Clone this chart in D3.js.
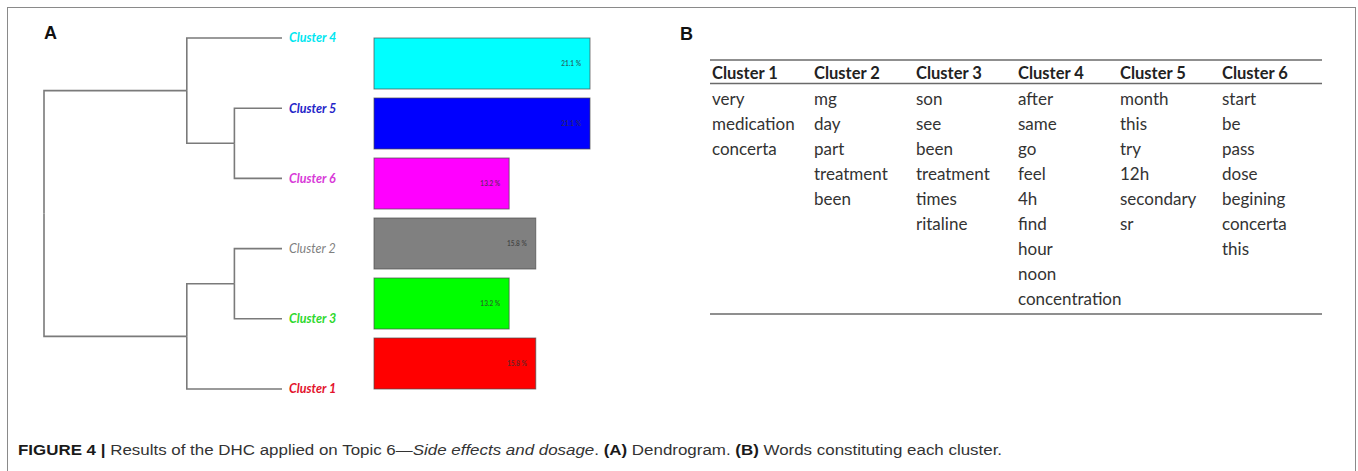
<!DOCTYPE html>
<html>
<head>
<meta charset="utf-8">
<script src="https://cdn.jsdelivr.net/npm/d3@7"></script>
<style>
  body { margin: 0; background: #fff; }
  svg { display: block; }
</style>
</head>
<body>
<svg id="fig" width="1358" height="471"></svg>
<script>

// leaves from top to bottom, as in the dendrogram
var leafOrder = ['Cluster 4', 'Cluster 5', 'Cluster 6', 'Cluster 2', 'Cluster 3', 'Cluster 1'];
var leafColors = ['#00e6f0', '#2424c8', '#d83ad8', '#7f7f7f', '#2ed82e', '#e3122c'];
var leafBold = [true, true, true, false, true, true];

// share of documents per cluster (%), same order
var clusterShare = [21.1, 21.1, 13.2, 15.8, 13.2, 15.8];
var barColors = ['#00ffff', '#0000ff', '#ff00ff', '#808080', '#00ff00', '#ff0000'];

// merge heights of the tree (0 = leaf, 1 = root)
var tree = {height: 1, children: [
    {height: 0.4, children: [
        {name: 'Cluster 4', height: 0},
        {height: 0.2, children: [{name: 'Cluster 5', height: 0}, {name: 'Cluster 6', height: 0}]}
    ]},
    {height: 0.4, children: [
        {height: 0.2, children: [{name: 'Cluster 2', height: 0}, {name: 'Cluster 3', height: 0}]},
        {name: 'Cluster 1', height: 0}
    ]}
]};

// table B
var tableHeaders = ['Cluster 1', 'Cluster 2', 'Cluster 3', 'Cluster 4', 'Cluster 5', 'Cluster 6'];
var words1 = ['very', 'medication', 'concerta'];
var words2 = ['mg', 'day', 'part', 'treatment', 'been'];
var words3 = ['son', 'see', 'been', 'treatment', 'times', 'ritaline'];
var words4 = ['after', 'same', 'go', 'feel', '4h', 'find', 'hour', 'noon', 'concentration'];
var words5 = ['month', 'this', 'try', '12h', 'secondary', 'sr'];
var words6 = ['start', 'be', 'pass', 'dose', 'begining', 'concerta', 'this'];
var tableWords = [words1, words2, words3, words4, words5, words6];

var svg = d3.select('#fig');
var bodyFont = 'Lato, "Open Sans", sans-serif';

// outer frame
svg.append('rect')
    .attr('x', 7.5).attr('y', 7.5)
    .attr('width', 1348).attr('height', 480)
    .attr('fill', 'none')
    .attr('stroke', '#8a8a8a')
    .attr('stroke-width', 1);

// panel letters
svg.append('text').text('A')
    .attr('x', 44).attr('y', 39)
    .style('font-family', '"Liberation Sans", Arial, sans-serif')
    .style('font-weight', 'bold').style('font-size', '18px')
    .attr('fill', '#111');

svg.append('text').text('B')
    .attr('x', 680).attr('y', 40)
    .style('font-family', '"Liberation Sans", Arial, sans-serif')
    .style('font-weight', 'bold').style('font-size', '18px')
    .attr('fill', '#111');

// ---------------- dendrogram ----------------
var root = d3.hierarchy(tree);

var hx = d3.scaleLinear().domain([0, 1]).range([282, 44]);
var ly = d3.scalePoint().domain(leafOrder).range([38, 389]);

// y of each node = mid of its children
root.eachAfter(function(d){
    if (!d.children) {
        d.py = ly(d.data.name);
    } else {
        d.py = d3.mean([d.children[0].py, d.children[d.children.length - 1].py]);
    }
    d.px = hx(d.data.height);
});

var gDen = svg.append('g').attr('class', 'dendrogram');

gDen.selectAll('path.link')
    .data(root.links()).enter()
    .append('path')
    .attr('class', 'link')
    .attr('d', function(l){
        return 'M' + l.source.px + ',' + l.source.py +
               'V' + l.target.py + 'H' + l.target.px;
    })
    .attr('fill', 'none')
    .attr('stroke', '#7a7a7a')
    .attr('stroke-width', 1.6);

gDen.selectAll('text.leaf')
    .data(root.leaves()).enter()
    .append('text')
    .attr('class', 'leaf')
    .text(function(d){ return d.data.name; })
    .attr('x', function(d){ return d.px + 7; })
    .attr('y', function(d){ return d.py; })
    .attr('dy', '0.35em')
    .style('font-family', bodyFont)
    .style('font-style', 'italic')
    .style('font-size', '12.5px')
    .style('font-weight', function(d){ return leafBold[leafOrder.indexOf(d.data.name)] ? 'bold' : 'normal'; })
    .attr('fill', function(d){ return leafColors[leafOrder.indexOf(d.data.name)]; });

// ---------------- bars ----------------
var bx = d3.scaleLinear().domain([0, 21.1]).range([374, 590]);
var by = d3.scaleBand().domain(leafOrder).range([38, 389]).paddingInner(0.15);

var gBar = svg.append('g').attr('class', 'bars');

gBar.selectAll('rect')
    .data(leafOrder).enter()
    .append('rect')
    .attr('x', bx(0))
    .attr('y', function(d){ return by(d); })
    .attr('width', function(d, i){ return bx(clusterShare[i]) - bx(0); })
    .attr('height', by.bandwidth())
    .attr('fill', function(d, i){ return barColors[i]; })
    .attr('stroke', '#4a4a4a')
    .attr('stroke-opacity', 0.7)
    .attr('stroke-width', 1);

gBar.selectAll('text')
    .data(leafOrder).enter()
    .append('text')
    .text(function(d, i){ return clusterShare[i].toFixed(1) + ' %'; })
    .attr('x', function(d, i){ return bx(clusterShare[i]) - 9; })
    .attr('y', function(d){ return by(d) + by.bandwidth() / 2; })
    .attr('dy', '0.35em')
    .attr('text-anchor', 'end')
    .style('font-family', bodyFont)
    .style('font-size', '6.5px')
    .style('font-weight', 'bold')
    .attr('fill', '#333')
    .attr('fill-opacity', 0.75);

// ---------------- table ----------------
var tx = d3.scalePoint().domain(tableHeaders).range([712, 1222]);
var rowY = d3.scaleLinear().domain([0, 1]).range([105, 130]);
var gTab = svg.append('g').attr('class', 'table');

[60, 83.5, 314].forEach(function(y){
    gTab.append('line')
        .attr('x1', 710).attr('x2', 1322)
        .attr('y1', y).attr('y2', y)
        .attr('stroke', '#6a6a6a').attr('stroke-width', 1.4);
});

gTab.selectAll('text.head')
    .data(tableHeaders).enter()
    .append('text')
    .attr('class', 'head')
    .text(function(d){ return d; })
    .attr('x', function(d){ return tx(d); })
    .attr('y', 79)
    .style('font-family', bodyFont)
    .style('font-weight', 'bold')
    .style('font-size', '16.5px')
    .attr('fill', '#222');

tableWords.forEach(function(col, c){
    gTab.selectAll('text.c' + c)
        .data(col).enter()
        .append('text')
        .attr('class', 'c' + c)
        .text(function(d){ return d; })
        .attr('x', tx(tableHeaders[c]))
        .attr('y', function(d, i){ return rowY(i); })
        .style('font-family', bodyFont)
        .style('font-size', '17px')
        .attr('fill', '#333');
});

// ---------------- caption ----------------
var cap = svg.append('text')
    .attr('x', 0).attr('y', 0)
    .style('font-family', '"Liberation Sans", Arial, sans-serif')
    .style('font-size', '15.5px')
    .attr('fill', '#333');

var parts = [
    {t: 'FIGURE 4 | ', w: 'bold', s: 'normal', c: '#1a1a1a'},
    {t: 'Results of the DHC applied on Topic 6\u2014', w: 'normal', s: 'normal'},
    {t: 'Side effects and dosage', w: 'normal', s: 'italic'},
    {t: '. ', w: 'normal', s: 'normal'},
    {t: '(A)', w: 'bold', s: 'normal', c: '#1a1a1a'},
    {t: ' Dendrogram. ', w: 'normal', s: 'normal'},
    {t: '(B)', w: 'bold', s: 'normal', c: '#1a1a1a'},
    {t: ' Words constituting each cluster.', w: 'normal', s: 'normal'}
];
cap.selectAll('tspan')
    .data(parts).enter()
    .append('tspan')
    .text(function(d){ return d.t; })
    .style('font-weight', function(d){ return d.w; })
    .style('font-style', function(d){ return d.s; })
    .attr('fill', function(d){ return d.c || '#333'; });

// squeeze the caption to the width it takes in the figure
var capW = cap.node().getComputedTextLength();
var sx = 985 / capW;
cap.attr('transform', 'translate(18,455) scale(' + sx + ',1)');

</script>
</body>
</html>
